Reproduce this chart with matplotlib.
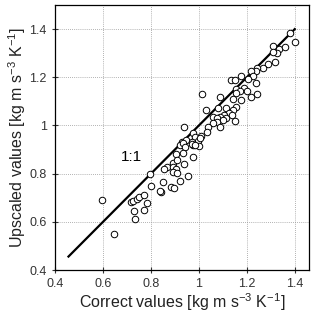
import matplotlib
matplotlib.use("Agg")
import matplotlib.pyplot as plt
import matplotlib.ticker as mticker
import numpy as np

plt.rcParams['font.family'] = ['Liberation Sans', 'DejaVu Sans']
plt.rcParams['mathtext.fontset'] = 'custom'
plt.rcParams['mathtext.rm'] = 'Liberation Sans'

# valores
correct = [1.382, 1.403, 1.310, 1.335, 1.360, 1.326, 1.318, 1.310, 1.290, 1.268,
           1.242, 1.240, 1.217, 1.226, 1.203, 1.176, 1.136, 1.151, 1.238, 1.188,
           1.157, 1.171, 1.201, 1.154, 1.176, 1.143, 1.218, 1.242, 1.011, 1.088,
           1.157, 1.115, 1.080, 1.143, 1.028, 1.125, 1.105, 1.088, 1.060, 1.076,
           1.115, 1.099, 1.074, 1.088, 1.150, 1.140, 1.060, 1.039, 0.938, 1.032,
           0.974, 1.008, 0.983, 0.928, 0.946, 0.995, 1.004, 1.001, 0.970, 0.976,
           0.921, 0.935, 0.944, 0.971, 0.985, 0.903, 0.935, 0.974, 0.893, 0.907,
           0.938, 0.865, 0.854, 0.890, 0.904, 0.893, 0.907, 0.796, 0.955, 0.799,
           0.851, 0.921, 0.882, 0.895, 0.840, 0.838, 0.597, 0.715, 0.726, 0.740,
           0.751, 0.771, 0.782, 0.729, 0.771, 0.733, 0.647]
upscaled = [1.382, 1.346, 1.329, 1.318, 1.324, 1.302, 1.264, 1.306, 1.254, 1.237,
            1.239, 1.226, 1.226, 1.206, 1.193, 1.206, 1.188, 1.187, 1.177, 1.154,
            1.150, 1.145, 1.145, 1.133, 1.105, 1.112, 1.119, 1.129, 1.130, 1.119,
            1.078, 1.071, 1.073, 1.064, 1.064, 1.050, 1.043, 1.036, 1.036, 1.029,
            1.029, 1.022, 1.015, 0.995, 1.020, 1.043, 1.009, 0.995, 0.995, 0.974,
            0.967, 0.956, 0.953, 0.932, 0.939, 0.937, 0.946, 0.915, 0.932, 0.919,
            0.919, 0.926, 0.912, 0.923, 0.917, 0.881, 0.884, 0.868, 0.843, 0.856,
            0.840, 0.829, 0.818, 0.826, 0.818, 0.807, 0.804, 0.798, 0.790, 0.750,
            0.765, 0.771, 0.746, 0.742, 0.725, 0.729, 0.689, 0.681, 0.688, 0.693,
            0.704, 0.710, 0.677, 0.646, 0.649, 0.613, 0.548]
linea = [0.456, 1.40]
ticks = [0.4, 0.6, 0.8, 1.0, 1.2, 1.4]

fig = plt.figure(figsize=(3.22, 3.14), dpi=100)
ax = fig.add_axes([0.171, 0.140, 0.789, 0.844])

ax.grid(True, color='#999999', linestyle=(0, (1, 1.5)), linewidth=0.6)
ax.set_axisbelow(True)
ax.plot(linea, linea, color='black', linewidth=1.6, zorder=2)
ax.scatter(correct, upscaled, s=22, facecolors='white', edgecolors='black',
           linewidths=0.7, zorder=3)
ax.text(0.72, 0.87, '1:1', fontsize=11, ha='center', va='center')

ax.set_xlim(0.4, 1.46)
ax.set_ylim(0.4, 1.5)
ax.set_xticks(ticks)
ax.set_yticks(ticks)
fmt = mticker.FuncFormatter(lambda v, p: '%g' % round(v, 1))
ax.xaxis.set_major_formatter(fmt)
ax.yaxis.set_major_formatter(fmt)
ax.tick_params(direction='inout', length=5, width=0.8, labelsize=9, colors='#333333')
for s in ax.spines.values():
    s.set_linewidth(0.9)

ax.set_xlabel('Correct values [kg m s$^{-3}$ K$^{-1}$]', fontsize=11.5, color='#222222', labelpad=1)
ax.set_ylabel('Upscaled values [kg m s$^{-3}$ K$^{-1}$]', fontsize=11.5, color='#222222', labelpad=1)

fig.savefig('out.png', dpi=100)
